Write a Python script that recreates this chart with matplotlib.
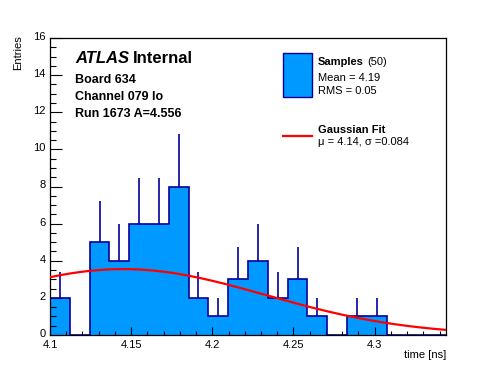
import numpy as np
import matplotlib
matplotlib.use("Agg")
import matplotlib.pyplot as plt
from matplotlib.ticker import MultipleLocator
from matplotlib.transforms import ScaledTranslation

plt.rcParams['font.family'] = ['Liberation Sans', 'DejaVu Sans']

# histogram of samples
edges = np.linspace(4.1, 4.344, 21)
counts = [2, 0, 5, 4, 6, 6, 8, 2, 1, 3, 4, 2, 3, 1, 0, 1, 1, 0, 0, 0]

# gaussian fit (curve parameters)
fit_amp = 3.55
fit_mu = 4.145
fit_sigma = 0.088

fill_col = '#0099ff'
edge_col = '#000099'

fig = plt.figure(figsize=(4.96, 3.72), dpi=100)
ax = fig.add_axes([50/496, 1-335/372, 396/496, 297/372])

ax.stairs(counts, edges, fill=True, color=fill_col, zorder=1)
ax.stairs(counts, edges, baseline=0, color=edge_col, lw=1.2, zorder=2)

centers = 0.5 * (edges[:-1] + edges[1:])
for c, n in zip(centers, counts):
    if n > 0:
        ax.vlines(c, n, n + np.sqrt(n), color=edge_col, lw=1.2, zorder=2)

xs = np.linspace(edges[0], edges[-1], 300)
ax.plot(xs, fit_amp * np.exp(-(xs - fit_mu)**2 / (2 * fit_sigma**2)),
        color='red', lw=1.6, zorder=3)

ax.set_xlim(edges[0], edges[-1])
ax.set_ylim(0, 16)
ax.xaxis.set_major_locator(MultipleLocator(0.05))
ax.xaxis.set_minor_locator(MultipleLocator(0.01))
ax.yaxis.set_major_locator(MultipleLocator(2))
ax.yaxis.set_minor_locator(MultipleLocator(0.5))
ax.tick_params(axis='both', which='both', direction='in', top=False, right=False,
               labelsize=8, color='black', width=0.8)
ax.tick_params(axis='y', which='major', length=8.6, pad=3)
ax.tick_params(axis='y', which='minor', length=4.3)
ax.tick_params(axis='x', which='major', length=5.8, pad=3.5)
ax.tick_params(axis='x', which='minor', length=2.9)
ax.xaxis.set_major_formatter(plt.FuncFormatter(lambda v, p: ('%g' % round(v, 3))))
# ROOT puts the y labels a touch above the tick
shift = ScaledTranslation(0, 1.5/72, fig.dpi_scale_trans)
for lab in ax.get_yticklabels():
    lab.set_transform(lab.get_transform() + shift)
for s in ax.spines.values():
    s.set_linewidth(0.9)

fig.text(446/496, 1-358/372, 'time [ns]', ha='right', va='baseline', fontsize=8)
fig.text(18/496, 1-35/372, 'Entries', ha='center', va='top', rotation=90, fontsize=8)

# labels
t_atlas = fig.text(75/496, 1-63/372, 'ATLAS', fontsize=12, style='italic',
                   weight='bold', va='baseline')
fig.add_artist(plt.Annotation('Internal', xy=(1, 0), xycoords=t_atlas,
                              xytext=(3, 0), textcoords='offset points',
                              fontsize=12, weight='bold', va='bottom'))
fig.text(75/496, 1-83/372, 'Board 634', fontsize=9, weight='bold', va='baseline')
fig.text(75/496, 1-100/372, 'Channel 079 lo', fontsize=9, weight='bold', va='baseline')
fig.text(75/496, 1-117/372, 'Run 1673 A=4.556', fontsize=9, weight='bold', va='baseline')

# legend
fig.patches.append(plt.Rectangle((283/496, 1-97/372), 29/496, 44/372,
                                 transform=fig.transFigure, facecolor=fill_col,
                                 edgecolor=edge_col, lw=1.0))
t_samp = fig.text(318/496, 1-65/372, 'Samples', fontsize=8, weight='bold', va='baseline')
fig.add_artist(plt.Annotation('(50)', xy=(1, 0), xycoords=t_samp,
                              xytext=(2.5, 0), textcoords='offset points',
                              fontsize=8, va='bottom'))
fig.text(318/496, 1-81/372, 'Mean = 4.19', fontsize=8, va='baseline')
fig.text(318/496, 1-94/372, 'RMS = 0.05', fontsize=8, va='baseline')
fig.lines.append(plt.Line2D([283/496, 312/496], [1-136/372, 1-136/372],
                            transform=fig.transFigure, color='red', lw=1.6))
fig.text(318/496, 1-133/372, 'Gaussian Fit', fontsize=8, weight='bold', va='baseline')
fig.text(318/496, 1-145/372, '\u03bc = 4.14, \u03c3 =0.084', fontsize=8, va='baseline')

fig.savefig('out.png', dpi=100)
